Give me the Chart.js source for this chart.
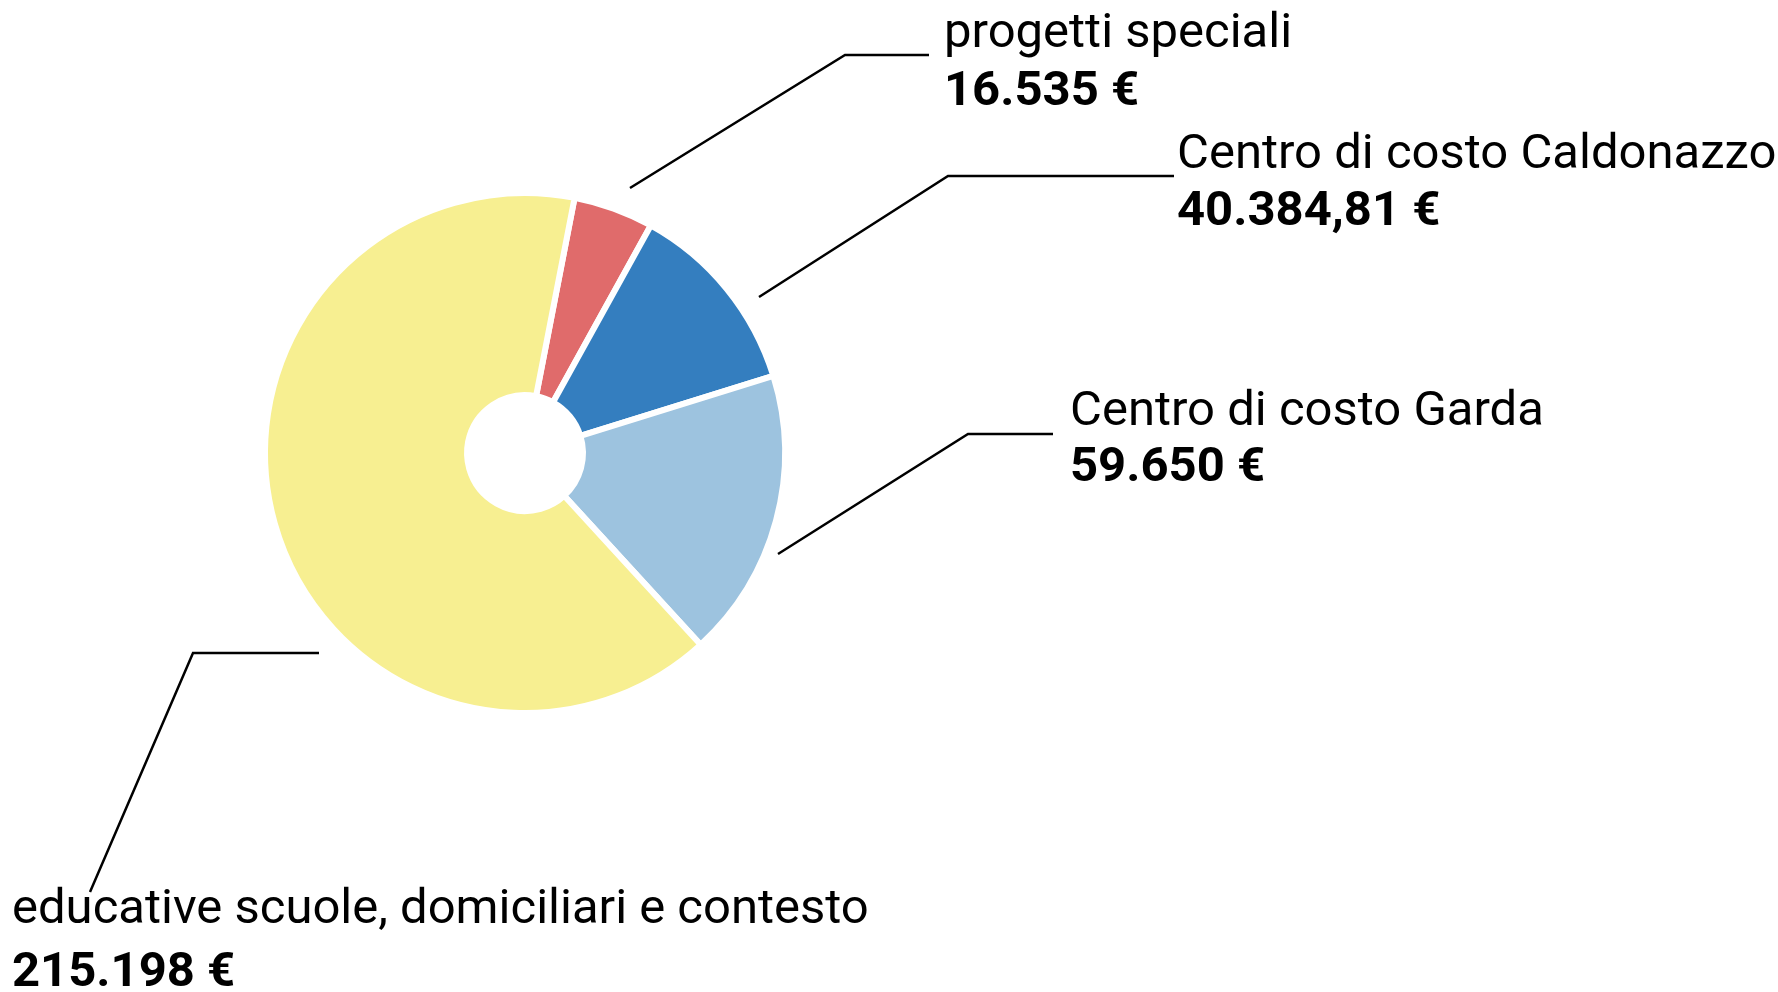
<!DOCTYPE html>
<html>
<head>
<meta charset="utf-8">
<script src="https://cdn.jsdelivr.net/npm/chart.js@4/dist/chart.umd.min.js"></script>
<style>
  html, body { margin: 0; padding: 0; background: #fff; }
  canvas { display: block; }
</style>
</head>
<body>
<canvas id="costChart" width="1778" height="992"></canvas>
<script>
// categories in clockwise order, starting just right of 12 o'clock
const categories = [
    "progetti speciali",
    "Centro di costo Caldonazzo",
    "Centro di costo Garda",
    "educative scuole, domiciliari e contesto"
];
const amounts = [16535, 40384.81, 59650, 215198];
const sliceColors = ["#e06b6b", "#347ebf", "#9dc3df", "#f7ef91"];

// where each label sits: leader line start, elbow, end, then text anchor
const labelLayout = [
    { line: [[630, 188], [845, 55], [929, 55]], x: 944, y: 47, gap: 58 },
    { line: [[759, 297], [948, 176], [1174, 176]], x: 1177, y: 168, gap: 57 },
    { line: [[778, 554], [968, 434], [1053, 434]], x: 1070, y: 425, gap: 56 },
    { line: [[319, 653], [193, 653], [90, 892]], x: 12, y: 923, gap: 63 }
];

function formatEuro(v) {
    const parts = v.toFixed(2).split(".");
    const intPart = parts[0].replace(/\B(?=(\d{3})+(?!\d))/g, ".");
    const dec = parts[1] === "00" ? "" : "," + parts[1];
    return intPart + dec + " €";
}

const leaderLabels = {
    id: "leaderLabels",
    afterDraw(chart) {
        const ctx = chart.ctx;
        ctx.save();
        ctx.strokeStyle = "#000";
        ctx.lineWidth = 2.5;
        ctx.fillStyle = "#000";
        ctx.textBaseline = "alphabetic";
        ctx.textAlign = "left";
        labelLayout.forEach((lab, i) => {
            ctx.beginPath();
            ctx.moveTo(lab.line[0][0], lab.line[0][1]);
            for (let k = 1; k < lab.line.length; k++) {
                ctx.lineTo(lab.line[k][0], lab.line[k][1]);
            }
            ctx.stroke();
            ctx.font = "49px Roboto";
            ctx.fillText(categories[i], lab.x, lab.y);
            ctx.font = "bold 49px Roboto";
            ctx.fillText(formatEuro(amounts[i]), lab.x, lab.y + lab.gap);
        });
        ctx.restore();
    }
};

const ctx = document.getElementById("costChart").getContext("2d");
new Chart(ctx, {
    type: "doughnut",
    data: {
        labels: categories,
        datasets: [{
            data: amounts,
            backgroundColor: sliceColors,
            borderColor: "#ffffff",
            borderWidth: 6,
            hoverOffset: 0
        }]
    },
    options: {
        responsive: false,
        animation: false,
        devicePixelRatio: 1,
        rotation: 11,
        radius: 260,
        cutout: "22.3%",
        layout: {
            padding: { left: 0, right: 728, top: 0, bottom: 86 }
        },
        plugins: {
            legend: { display: false },
            tooltip: { enabled: false }
        }
    },
    plugins: [leaderLabels]
});
</script>
</body>
</html>
